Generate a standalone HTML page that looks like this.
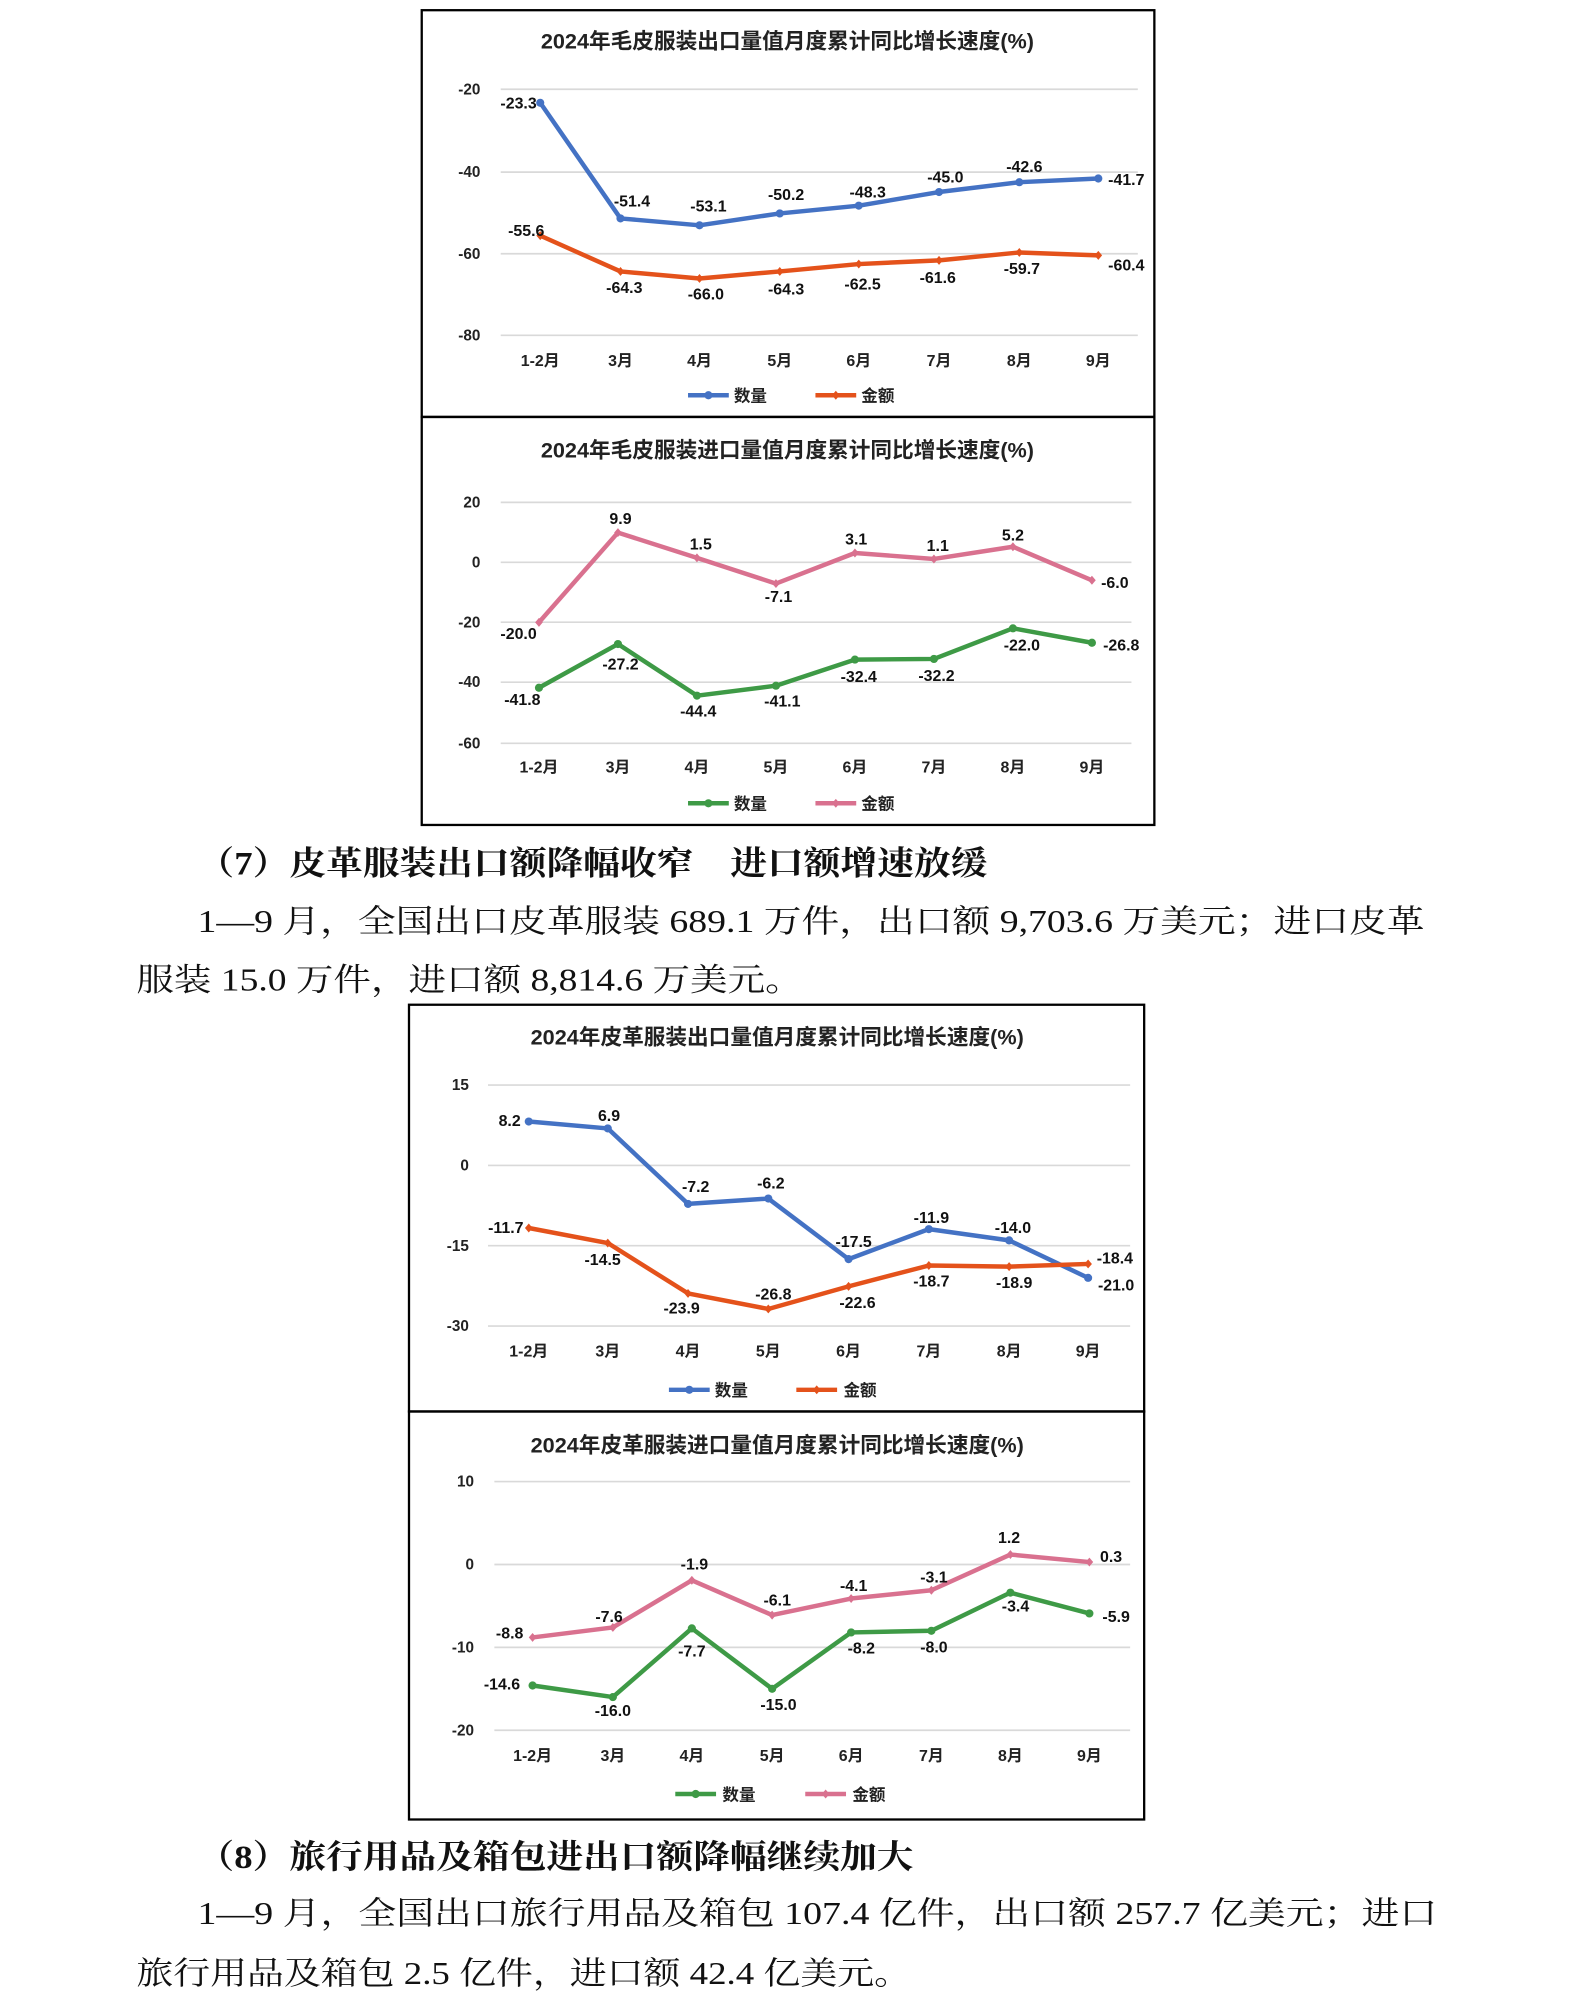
<!DOCTYPE html>
<html><head><meta charset="utf-8"><style>
html,body{margin:0;padding:0;background:#fff;}
svg{display:block;}
.t{font-family:"Liberation Sans","Noto Sans CJK SC",sans-serif;font-weight:bold;fill:#222;}
.ti{font-size:17px;text-anchor:middle;}
.ax{font-size:12px;text-anchor:end;}
.cx{font-size:12.5px;text-anchor:middle;}
.dl{font-size:12.5px;text-anchor:middle;fill:#111;}
.lg{font-size:13px;}
.g{stroke:#d9d9d9;stroke-width:1.3;}
.box{fill:none;stroke:#000;stroke-width:1.8;}
.p{font-family:"Liberation Serif","Noto Serif CJK SC",serif;font-size:25px;fill:#111;}
.h{font-family:"Liberation Serif","Noto Serif CJK SC",serif;font-size:26px;font-weight:bold;fill:#111;}
</style></head><body>
<svg width="1571" height="1998" viewBox="0 0 1233 1567" preserveAspectRatio="none" xmlns="http://www.w3.org/2000/svg">
<defs>
<path id="dO" d="M0,-3.5 L3,0 L0,3.5 L-3,0Z" fill="#E4521B"/>
<path id="dP" d="M0,-3.5 L3,0 L0,3.5 L-3,0Z" fill="#D9718F"/>
</defs>
<!-- Chart 1 -->
<rect class="box" x="331" y="8" width="575" height="319"/>
<text class="t ti" x="618" y="38">2024年毛皮服装出口量值月度累计同比增长速度(%)</text>
<g class="g"><line x1="393" x2="893" y1="70" y2="70"/><line x1="393" x2="893" y1="135" y2="135"/><line x1="393" x2="893" y1="199" y2="199"/><line x1="393" x2="893" y1="263" y2="263"/></g>
<g class="t ax"><text x="377" y="74">-20</text><text x="377" y="139">-40</text><text x="377" y="203">-60</text><text x="377" y="267">-80</text></g>
<g class="t cx"><text x="424" y="287">1-2月</text><text x="487" y="287">3月</text><text x="549" y="287">4月</text><text x="612" y="287">5月</text><text x="674" y="287">6月</text><text x="737" y="287">7月</text><text x="800" y="287">8月</text><text x="862" y="287">9月</text></g>
<polyline fill="none" stroke="#4472C4" stroke-width="3.5" stroke-linejoin="round" points="424,80.6 487,171.3 549,176.7 612,167.4 674,161.3 737,150.6 800,142.9 862,140"/>
<g fill="#4472C4"><circle cx="424" cy="80.6" r="3.2"/><circle cx="487" cy="171.3" r="3.2"/><circle cx="549" cy="176.7" r="3.2"/><circle cx="612" cy="167.4" r="3.2"/><circle cx="674" cy="161.3" r="3.2"/><circle cx="737" cy="150.6" r="3.2"/><circle cx="800" cy="142.9" r="3.2"/><circle cx="862" cy="140" r="3.2"/></g>
<polyline fill="none" stroke="#E4521B" stroke-width="3.5" stroke-linejoin="round" points="424,184.8 487,212.9 549,218.4 612,212.9 674,207.1 737,204.2 800,198 862,200.3"/>
<use href="#dO" x="424" y="184.8"/><use href="#dO" x="487" y="212.9"/><use href="#dO" x="549" y="218.4"/><use href="#dO" x="612" y="212.9"/><use href="#dO" x="674" y="207.1"/><use href="#dO" x="737" y="204.2"/><use href="#dO" x="800" y="198"/><use href="#dO" x="862" y="200.3"/>
<g class="t dl"><text x="407" y="85">-23.3</text><text x="496" y="162">-51.4</text><text x="556" y="166">-53.1</text><text x="617" y="157">-50.2</text><text x="681" y="155">-48.3</text><text x="742" y="143">-45.0</text><text x="804" y="135">-42.6</text><text x="884" y="145">-41.7</text>
<text x="413" y="185">-55.6</text><text x="490" y="230">-64.3</text><text x="554" y="235">-66.0</text><text x="617" y="231">-64.3</text><text x="677" y="227">-62.5</text><text x="736" y="222">-61.6</text><text x="802" y="215">-59.7</text><text x="884" y="212">-60.4</text></g>
<line x1="540" x2="572" y1="310" y2="310" stroke="#4472C4" stroke-width="3.5"/><circle cx="556" cy="310" r="3.2" fill="#4472C4"/>
<text class="t lg" x="576" y="315">数量</text>
<line x1="640" x2="672" y1="310" y2="310" stroke="#E4521B" stroke-width="3.5"/><use href="#dO" x="656" y="310"/>
<text class="t lg" x="676" y="315">金额</text>
<!-- Chart 2 -->
<rect class="box" x="331" y="327" width="575" height="320"/>
<text class="t ti" x="618" y="359">2024年毛皮服装进口量值月度累计同比增长速度(%)</text>
<g class="g"><line x1="393" x2="888" y1="394" y2="394"/><line x1="393" x2="888" y1="441" y2="441"/><line x1="393" x2="888" y1="488" y2="488"/><line x1="393" x2="888" y1="535" y2="535"/><line x1="393" x2="888" y1="583" y2="583"/></g>
<g class="t ax"><text x="377" y="398">20</text><text x="377" y="445">0</text><text x="377" y="492">-20</text><text x="377" y="539">-40</text><text x="377" y="587">-60</text></g>
<g class="t cx"><text x="423" y="606">1-2月</text><text x="485" y="606">3月</text><text x="547" y="606">4月</text><text x="609" y="606">5月</text><text x="671" y="606">6月</text><text x="733" y="606">7月</text><text x="795" y="606">8月</text><text x="857" y="606">9月</text></g>
<polyline fill="none" stroke="#D9718F" stroke-width="3.5" stroke-linejoin="round" points="423,488.1 485,417.7 547,437.5 609,457.7 671,433.7 733,438.4 795,428.8 857,455.1"/>
<use href="#dP" x="423" y="488.1"/><use href="#dP" x="485" y="417.7"/><use href="#dP" x="547" y="437.5"/><use href="#dP" x="609" y="457.7"/><use href="#dP" x="671" y="433.7"/><use href="#dP" x="733" y="438.4"/><use href="#dP" x="795" y="428.8"/><use href="#dP" x="857" y="455.1"/>
<polyline fill="none" stroke="#3E9A46" stroke-width="3.5" stroke-linejoin="round" points="423,539.4 485,505.1 547,545.6 609,537.8 671,517.3 733,516.8 795,492.8 857,504.1"/>
<g fill="#3E9A46"><circle cx="423" cy="539.4" r="3.2"/><circle cx="485" cy="505.1" r="3.2"/><circle cx="547" cy="545.6" r="3.2"/><circle cx="609" cy="537.8" r="3.2"/><circle cx="671" cy="517.3" r="3.2"/><circle cx="733" cy="516.8" r="3.2"/><circle cx="795" cy="492.8" r="3.2"/><circle cx="857" cy="504.1" r="3.2"/></g>
<g class="t dl"><text x="407" y="501">-20.0</text><text x="487" y="411">9.9</text><text x="550" y="431">1.5</text><text x="611" y="472">-7.1</text><text x="672" y="427">3.1</text><text x="736" y="432">1.1</text><text x="795" y="424">5.2</text><text x="875" y="461">-6.0</text>
<text x="410" y="553">-41.8</text><text x="487" y="525">-27.2</text><text x="548" y="562">-44.4</text><text x="614" y="554">-41.1</text><text x="674" y="535">-32.4</text><text x="735" y="534">-32.2</text><text x="802" y="510">-22.0</text><text x="880" y="510">-26.8</text></g>
<line x1="540" x2="572" y1="630" y2="630" stroke="#3E9A46" stroke-width="3.5"/><circle cx="556" cy="630" r="3.2" fill="#3E9A46"/>
<text class="t lg" x="576" y="635">数量</text>
<line x1="640" x2="672" y1="630" y2="630" stroke="#D9718F" stroke-width="3.5"/><use href="#dP" x="656" y="630"/>
<text class="t lg" x="676" y="635">金额</text>
<!-- Text 7 -->
<text class="h" x="155" y="686" textLength="620" lengthAdjust="spacingAndGlyphs">（7）皮革服装出口额降幅收窄　进口额增速放缓</text>
<text class="p" x="155" y="731" textLength="963" lengthAdjust="spacingAndGlyphs">1—9 月，全国出口皮革服装 689.1 万件，出口额 9,703.6 万美元；进口皮革</text>
<text class="p" x="107" y="777" textLength="523" lengthAdjust="spacingAndGlyphs">服装 15.0 万件，进口额 8,814.6 万美元。</text>
<!-- Chart 3 -->
<rect class="box" x="321" y="788" width="577" height="319"/>
<text class="t ti" x="610" y="819">2024年皮革服装出口量值月度累计同比增长速度(%)</text>
<g class="g"><line x1="383" x2="887" y1="851" y2="851"/><line x1="383" x2="887" y1="914" y2="914"/><line x1="383" x2="887" y1="977" y2="977"/><line x1="383" x2="887" y1="1040" y2="1040"/></g>
<g class="t ax"><text x="368" y="855">15</text><text x="368" y="918">0</text><text x="368" y="981">-15</text><text x="368" y="1044">-30</text></g>
<g class="t cx"><text x="415" y="1064">1-2月</text><text x="477" y="1064">3月</text><text x="540" y="1064">4月</text><text x="603" y="1064">5月</text><text x="666" y="1064">6月</text><text x="729" y="1064">7月</text><text x="792" y="1064">8月</text><text x="854" y="1064">9月</text></g>
<polyline fill="none" stroke="#4472C4" stroke-width="3.5" stroke-linejoin="round" points="415,879.6 477,885 540,944.2 603,940 666,987.5 729,964 792,972.8 854,1002.2"/>
<g fill="#4472C4"><circle cx="415" cy="879.6" r="3.2"/><circle cx="477" cy="885" r="3.2"/><circle cx="540" cy="944.2" r="3.2"/><circle cx="603" cy="940" r="3.2"/><circle cx="666" cy="987.5" r="3.2"/><circle cx="729" cy="964" r="3.2"/><circle cx="792" cy="972.8" r="3.2"/><circle cx="854" cy="1002.2" r="3.2"/></g>
<polyline fill="none" stroke="#E4521B" stroke-width="3.5" stroke-linejoin="round" points="415,963.1 477,974.9 540,1014.4 603,1026.6 666,1008.9 729,992.5 792,993.4 854,991.3"/>
<use href="#dO" x="415" y="963.1"/><use href="#dO" x="477" y="974.9"/><use href="#dO" x="540" y="1014.4"/><use href="#dO" x="603" y="1026.6"/><use href="#dO" x="666" y="1008.9"/><use href="#dO" x="729" y="992.5"/><use href="#dO" x="792" y="993.4"/><use href="#dO" x="854" y="991.3"/>
<g class="t dl"><text x="400" y="883">8.2</text><text x="478" y="879">6.9</text><text x="546" y="935">-7.2</text><text x="605" y="932">-6.2</text><text x="670" y="978">-17.5</text><text x="731" y="959">-11.9</text><text x="795" y="967">-14.0</text><text x="876" y="1012">-21.0</text>
<text x="397" y="967">-11.7</text><text x="473" y="992">-14.5</text><text x="535" y="1030">-23.9</text><text x="607" y="1019">-26.8</text><text x="673" y="1026">-22.6</text><text x="731" y="1009">-18.7</text><text x="796" y="1010">-18.9</text><text x="875" y="991">-18.4</text></g>
<line x1="525" x2="557" y1="1090" y2="1090" stroke="#4472C4" stroke-width="3.5"/><circle cx="541" cy="1090" r="3.2" fill="#4472C4"/>
<text class="t lg" x="561" y="1095">数量</text>
<line x1="625" x2="657" y1="1090" y2="1090" stroke="#E4521B" stroke-width="3.5"/><use href="#dO" x="641" y="1090"/>
<text class="t lg" x="662" y="1095">金额</text>
<!-- Chart 4 -->
<rect class="box" x="321" y="1107" width="577" height="320"/>
<text class="t ti" x="610" y="1139">2024年皮革服装进口量值月度累计同比增长速度(%)</text>
<g class="g"><line x1="388" x2="887" y1="1162" y2="1162"/><line x1="388" x2="887" y1="1227" y2="1227"/><line x1="388" x2="887" y1="1292" y2="1292"/><line x1="388" x2="887" y1="1357" y2="1357"/></g>
<g class="t ax"><text x="372" y="1166">10</text><text x="372" y="1231">0</text><text x="372" y="1296">-10</text><text x="372" y="1361">-20</text></g>
<g class="t cx"><text x="418" y="1381">1-2月</text><text x="481" y="1381">3月</text><text x="543" y="1381">4月</text><text x="606" y="1381">5月</text><text x="668" y="1381">6月</text><text x="731" y="1381">7月</text><text x="793" y="1381">8月</text><text x="855" y="1381">9月</text></g>
<polyline fill="none" stroke="#D9718F" stroke-width="3.5" stroke-linejoin="round" points="418,1284.2 481,1276.4 543,1239.4 606,1266.7 668,1253.7 731,1247.2 793,1219.2 855,1225.1"/>
<use href="#dP" x="418" y="1284.2"/><use href="#dP" x="481" y="1276.4"/><use href="#dP" x="543" y="1239.4"/><use href="#dP" x="606" y="1266.7"/><use href="#dP" x="668" y="1253.7"/><use href="#dP" x="731" y="1247.2"/><use href="#dP" x="793" y="1219.2"/><use href="#dP" x="855" y="1225.1"/>
<polyline fill="none" stroke="#3E9A46" stroke-width="3.5" stroke-linejoin="round" points="418,1321.9 481,1331 543,1277.1 606,1324.5 668,1280.3 731,1279 793,1249.1 855,1265.4"/>
<g fill="#3E9A46"><circle cx="418" cy="1321.9" r="3.2"/><circle cx="481" cy="1331" r="3.2"/><circle cx="543" cy="1277.1" r="3.2"/><circle cx="606" cy="1324.5" r="3.2"/><circle cx="668" cy="1280.3" r="3.2"/><circle cx="731" cy="1279" r="3.2"/><circle cx="793" cy="1249.1" r="3.2"/><circle cx="855" cy="1265.4" r="3.2"/></g>
<g class="t dl"><text x="400" y="1285">-8.8</text><text x="478" y="1272">-7.6</text><text x="545" y="1231">-1.9</text><text x="610" y="1259">-6.1</text><text x="670" y="1248">-4.1</text><text x="733" y="1241">-3.1</text><text x="792" y="1210">1.2</text><text x="872" y="1225">0.3</text>
<text x="394" y="1325">-14.6</text><text x="481" y="1346">-16.0</text><text x="543" y="1299">-7.7</text><text x="611" y="1341">-15.0</text><text x="676" y="1297">-8.2</text><text x="733" y="1296">-8.0</text><text x="797" y="1264">-3.4</text><text x="876" y="1272">-5.9</text></g>
<line x1="530" x2="562" y1="1407" y2="1407" stroke="#3E9A46" stroke-width="3.5"/><circle cx="546" cy="1407" r="3.2" fill="#3E9A46"/>
<text class="t lg" x="567" y="1412">数量</text>
<line x1="632" x2="664" y1="1407" y2="1407" stroke="#D9718F" stroke-width="3.5"/><use href="#dP" x="648" y="1407"/>
<text class="t lg" x="669" y="1412">金额</text>
<!-- Text 8 -->
<text class="h" x="155" y="1465" textLength="562" lengthAdjust="spacingAndGlyphs">（8）旅行用品及箱包进出口额降幅继续加大</text>
<text class="p" x="155" y="1509" textLength="973" lengthAdjust="spacingAndGlyphs">1—9 月，全国出口旅行用品及箱包 107.4 亿件，出口额 257.7 亿美元；进口</text>
<text class="p" x="107" y="1556" textLength="608" lengthAdjust="spacingAndGlyphs">旅行用品及箱包 2.5 亿件，进口额 42.4 亿美元。</text>
</svg>
</body></html>
